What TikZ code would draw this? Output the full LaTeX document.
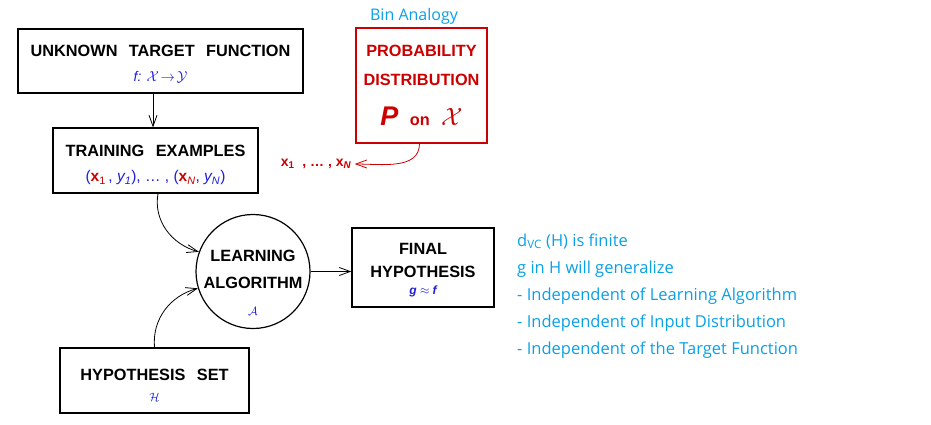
\documentclass[tikz,border=0pt]{standalone}
\usepackage{fontspec}
\setmainfont{Liberation Sans}
\newfontfamily\notefont{Open Sans}
\usetikzlibrary{shapes}
\usetikzlibrary{arrows.meta}
\definecolor{pred}{RGB}{204,0,0}
\definecolor{pblue}{RGB}{30,30,220}
\definecolor{pcyan}{RGB}{10,160,230}
\newcommand{\gap}{\hspace{0.7em}}
\newcommand{\lift}[1]{\rule{0pt}{#1}}
\newcommand{\xv}[1]{{\color{pred}\textbf{x}\textsubscript{#1}}}
\newcommand{\yv}[1]{{\itshape y\textsubscript{#1}}}
\tikzstyle{box} = [rectangle, draw=black, line width=1.2pt, align=center, inner sep=0pt,
font=\fontsize{16.3}{25}\selectfont\bfseries]
\tikzstyle{redbox} = [box, draw=pred, text=pred]
\tikzstyle{learner} = [circle, draw=black, line width=1.2pt, align=center, inner sep=-10pt,
minimum size=114, font=\fontsize{16.3}{27}\selectfont\bfseries]
\tikzstyle{arrow} = [line width=0.8pt, -{Straight Barb[length=11pt,width=8pt]}]
\tikzstyle{note} = [align=left, anchor=north west, inner sep=0pt, text=pcyan,
font=\notefont\fontsize{16.5}{27}\selectfont]

\begin{document}
\begin{tikzpicture}[x=1pt, y=1pt]
    \useasboundingbox (0,0) rectangle (931,-424);

    \node(target)[box, minimum width=285, minimum height=64] at (160.5,-61)
      {\lift{18pt}UNKNOWN\gap TARGET\gap FUNCTION\\
       {\fontsize{14}{14}\selectfont\mdseries\color{pblue}\itshape f: $\mathcal{X}\!\to\!\mathcal{Y}$}};
    \node(training)[box, minimum width=205, minimum height=65] at (155.5,-160.5)
      {\lift{21pt}TRAINING\gap EXAMPLES\\
       {\fontsize{15.5}{15.5}\selectfont\mdseries\color{pblue}(\xv{1}\,, \yv{1}), \dots\ , (\xv{\itshape N}, \yv{N})}};
    \node(prob)[redbox, minimum width=131, minimum height=115] at (421.5,-85.5)
      {PROBABILITY\\[4pt]
       DISTRIBUTION\\[15pt]
       {\fontsize{27}{27}\selectfont\itshape P}\gap on\gap {\fontsize{24}{24}\selectfont\mdseries$\mathcal{X}$}};
    \node(bin)[text=pcyan, font=\notefont\fontsize{16}{16}\selectfont] at (414,-16) {Bin Analogy};
    \node(samples)[text=pred, font=\fontsize{14}{14}\selectfont\bfseries] at (316,-164)
      {x\textsubscript{1}\ \ , \dots\ , x\textsubscript{\itshape N}};

    \node(learning)[learner] at (253,-271.5)
      {\lift{33pt}LEARNING\\ALGORITHM\\{\fontsize{13}{13}\selectfont\color{pblue}$\mathcal{A}$}};
    \node(final)[box, minimum width=142, minimum height=79] at (423,-267.5)
      {\lift{16pt}FINAL\\[-2pt]HYPOTHESIS\\[-8pt]
       {\fontsize{12}{12}\selectfont\color{pblue}\itshape g $\approx$ f}};
    \node(hypset)[box, minimum width=189, minimum height=65] at (154.5,-380.5)
      {\lift{21pt}HYPOTHESIS\gap SET\\[-4pt]
       {\fontsize{12}{12}\selectfont\mdseries\color{pblue}$\mathcal{H}$}};

    \node(remarks)[note] at (517,-233.5)
      {d\textsubscript{VC} (H) is finite\\
       g in H will generalize\\
       - Independent of Learning Algorithm\\
       - Independent of Input Distribution\\
       - Independent of the Target Function};

    % connectors
    \draw[arrow] ([xshift=-7.5]target.south) -- ([xshift=-7.5]target.south |- training.north);
    \draw[arrow, draw=pred] ([xshift=-2]prob.south) to[out=-90, in=0] (samples.east);
    \draw[arrow] ([xshift=2.5]training.south) to[out=-100, in=165] (learning.160);
    \draw[arrow] (hypset.north) to[out=95, in=195] (learning.197);
    \draw[arrow] (learning.east) -- (learning.east -| final.west);

\end{tikzpicture}
\end{document}
